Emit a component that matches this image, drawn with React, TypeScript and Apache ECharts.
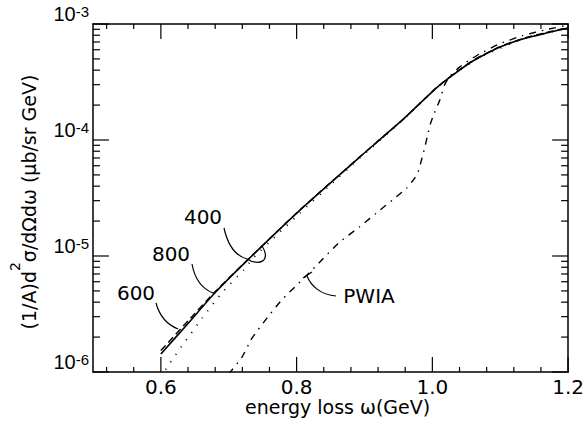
import React, { useEffect, useRef } from "react";
import * as echarts from "echarts";

// ---- tick values ----
const xMajorTicks = [0.6, 0.8, 1.0, 1.2];
const xMinorTicks = [0.52, 0.56, 0.64, 0.68, 0.72, 0.76, 0.84, 0.88, 0.92, 0.96, 1.04, 1.08, 1.12, 1.16];
const yMajorTicks = [1e-6, 1e-5, 1e-4, 1e-3];
const yMinorTicks = [
  2e-6, 3e-6, 4e-6, 5e-6, 6e-6, 7e-6, 8e-6, 9e-6,
  2e-5, 3e-5, 4e-5, 5e-5, 6e-5, 7e-5, 8e-5, 9e-5,
  2e-4, 3e-4, 4e-4, 5e-4, 6e-4, 7e-4, 8e-4, 9e-4,
];

// ---- series: energy loss ω (GeV) and (1/A) d²σ/dΩdω (μb/sr GeV) ----
const omega800 = [0.600, 0.640, 0.678, 0.728, 0.805, 0.893, 0.956, 1.006, 1.030, 1.055, 1.069, 1.099, 1.133, 1.168, 1.200];
const sigma800 = [1.43e-6, 2.62e-6, 4.70e-6, 9.25e-6, 2.49e-5, 7.13e-5, 1.49e-4, 2.81e-4, 3.63e-4, 4.61e-4, 5.15e-4, 6.30e-4, 7.43e-4, 8.36e-4, 9.24e-4];

const omega600 = [0.600, 0.640, 0.678, 0.728, 0.805, 0.893, 0.956, 1.006, 1.030, 1.055, 1.069, 1.099, 1.133, 1.168, 1.200];
const sigma600 = [1.53e-6, 2.76e-6, 4.80e-6, 9.30e-6, 2.50e-5, 7.15e-5, 1.49e-4, 2.83e-4, 3.66e-4, 4.65e-4, 5.20e-4, 6.36e-4, 7.50e-4, 8.45e-4, 9.30e-4];

const omega400 = [0.600, 0.6115, 0.632, 0.661, 0.691, 0.722, 0.736, 0.770, 0.805, 0.850, 0.893, 0.956, 1.006, 1.030, 1.069, 1.133, 1.200];
const sigma400 = [9.0e-7, 1.15e-6, 1.71e-6, 2.92e-6, 4.90e-6, 7.57e-6, 9.62e-6, 1.50e-5, 2.35e-5, 4.12e-5, 7.0e-5, 1.48e-4, 2.80e-4, 3.63e-4, 5.15e-4, 7.43e-4, 9.24e-4];

const omegaPWIA = [0.700, 0.7197, 0.734, 0.756, 0.778, 0.803, 0.830, 0.8615, 0.893, 0.923, 0.947, 0.962, 0.974, 0.980, 0.984, 0.989, 0.993, 0.9975, 1.003, 1.011, 1.018, 1.024, 1.040, 1.055, 1.069, 1.099, 1.133, 1.168, 1.200];
const sigmaPWIA = [9.6e-7, 1.35e-6, 1.95e-6, 2.90e-6, 4.18e-6, 5.82e-6, 8.36e-6, 1.29e-5, 1.79e-5, 2.49e-5, 3.24e-5, 3.84e-5, 4.70e-5, 5.51e-5, 6.73e-5, 8.71e-5, 1.10e-4, 1.40e-4, 1.71e-4, 2.21e-4, 2.98e-4, 3.45e-4, 4.25e-4, 4.90e-4, 5.50e-4, 6.75e-4, 7.95e-4, 8.95e-4, 9.80e-4];

const FONT = "DejaVu Sans";
const LFONT = "Liberation Sans";
const X_MIN = 0.5, X_MAX = 1.2, Y_MIN = 1e-6, Y_MAX = 1e-3;

// grid geometry (pixels) and tick lengths
const GRID = { left: 92, right: 18, top: 24, bottom: 55 };
const PLOT_W = 587 - GRID.left - GRID.right;
const PLOT_H = 427 - GRID.top - GRID.bottom;

export default function App() {
  const ref = useRef<HTMLDivElement>(null);

  useEffect(() => {
    document.body.style.margin = "0";
    const chart = echarts.init(ref.current!, null, { renderer: "svg" });
    const zip = (xs: number[], ys: number[]) => xs.map((x, i) => [x, ys[i]]);

    const lineOn = () => ({ show: true, onZero: false, lineStyle: { color: "#000", width: 1.5 } });
    const xAxisBase = (pos: string, labels: boolean) => ({
      type: "value",
      min: X_MIN,
      max: X_MAX,
      position: pos,
      splitLine: { show: false },
      axisLine: lineOn(),
      axisTick: { show: false },
      axisLabel: labels
        ? {
            show: true,
            customValues: xMajorTicks,
            formatter: (v: number) => v.toFixed(1),
            fontFamily: FONT,
            fontSize: 20,
            lineHeight: 18,
            color: "#000",
            margin: 6,
          }
        : { show: false },
    });

    const yAxisBase = (pos: string) => ({
      type: "log",
      logBase: 10,
      min: Y_MIN,
      max: Y_MAX,
      position: pos,
      splitLine: { show: false },
      axisLine: lineOn(),
      axisTick: { show: false },
      axisLabel: { show: false },
    });

    const yMain: any = yAxisBase("left");
    yMain.axisLabel = {
      show: true,
      customValues: yMajorTicks,
      margin: 4,
      formatter: (v: number) => `{b|10}{s|-${Math.round(-Math.log10(v))}}`,
      rich: {
        b: { fontFamily: LFONT, fontSize: 20, lineHeight: 40, verticalAlign: "top", color: "#000" },
        s: { fontFamily: LFONT, fontSize: 15, lineHeight: 16, verticalAlign: "top", color: "#000" },
      },
    };
    yMain.name = "{b|(1/A)d}{s|2}{b|σ/dΩdω (μb/sr GeV)}";
    yMain.nameLocation = "middle";
    yMain.nameRotate = 90;
    yMain.nameGap = 55;
    yMain.nameTextStyle = {
      padding: [0, 8, 0, 0],
      rich: {
        b: { fontFamily: FONT, fontSize: 19, lineHeight: 30, verticalAlign: "bottom", color: "#000" },
        s: { fontFamily: FONT, fontSize: 14, lineHeight: 14, verticalAlign: "top", color: "#000" },
      },
    };

    const xMain: any = xAxisBase("bottom", true);
    xMain.name = "energy loss ω(GeV)";
    xMain.nameLocation = "middle";
    xMain.nameGap = 25;
    xMain.nameMoveOverlap = false;
    xMain.nameTextStyle = { fontFamily: FONT, fontSize: 19, lineHeight: 19, color: "#000", padding: [0, 0, 0, 14] };

    const line = (name: string, xs: number[], ys: number[], type: any, width: number) => ({
      name,
      type: "line",
      xAxisIndex: 0,
      yAxisIndex: 0,
      data: zip(xs, ys),
      symbol: "none",
      showSymbol: false,
      silent: true,
      clip: true,
      smooth: 0.15,
      lineStyle: { color: "#000", width, type },
    });

    // tick marks: short two-point line series drawn through the axes' scales
    const yFactor = (px: number) => Math.pow(10, (px / PLOT_H) * Math.log10(Y_MAX / Y_MIN));
    const xDelta = (px: number) => (px / PLOT_W) * (X_MAX - X_MIN);
    const tickSeries: any[] = [];
    const seg = (a: number[], b: number[]) =>
      tickSeries.push({
        type: "line",
        xAxisIndex: 0,
        yAxisIndex: 0,
        data: [a, b],
        symbol: "none",
        showSymbol: false,
        silent: true,
        clip: false,
        z: 3,
        lineStyle: { color: "#000", width: 1.2, type: "solid" },
      });
    const addX = (vals: number[], len: number) =>
      vals.forEach((v) => {
        seg([v, Y_MIN], [v, Y_MIN * yFactor(len)]);
        seg([v, Y_MAX], [v, Y_MAX / yFactor(len)]);
      });
    const addY = (vals: number[], len: number) =>
      vals.forEach((v) => {
        seg([X_MIN, v], [X_MIN + xDelta(len), v]);
        seg([X_MAX, v], [X_MAX - xDelta(len), v]);
      });
    addX(xMajorTicks, 15);
    addX(xMinorTicks, 5);
    addY(yMajorTicks, 16);
    addY(yMinorTicks, 7);

    const txt = (text: string, x: number, y: number) => ({
      type: "text",
      x,
      y,
      silent: true,
      style: { text, fill: "#000", font: `20px "${FONT}"`, align: "center", verticalAlign: "middle" },
    });
    const bez = (x1: number, y1: number, cpx1: number, cpy1: number, cpx2: number, cpy2: number, x2: number, y2: number) => ({
      type: "bezierCurve",
      silent: true,
      shape: { x1, y1, cpx1, cpy1, cpx2, cpy2, x2, y2 },
      style: { stroke: "#000", lineWidth: 1.2, fill: null },
    });

    chart.setOption({
      animation: false,
      backgroundColor: "#fff",
      grid: { ...GRID, show: false },
      xAxis: [xMain, xAxisBase("top", false)],
      yAxis: [yMain, yAxisBase("right")],
      series: [
        ...tickSeries,
        line("400", omega400, sigma400, [1, 8], 1.8),
        line("600", omega600, sigma600, [7, 4], 1.4),
        line("PWIA", omegaPWIA, sigmaPWIA, [7, 6, 1.5, 6], 1.4),
        line("800", omega800, sigma800, "solid", 1.6),
      ],
      graphic: [
        txt("400", 203, 217),
        txt("800", 171, 254),
        txt("600", 136, 293),
        txt("PWIA", 369, 296),
        bez(224, 228, 228, 246, 236, 256, 247, 259),
        bez(247, 259, 258, 266, 272, 262, 262, 246),
        bez(192, 264, 195, 281, 203, 289, 213, 293),
        bez(156, 303, 160, 318, 168, 325, 178, 329),
        bez(336, 296, 321, 295, 311, 286, 307, 276),
        bez(303, 278, 306, 276, 309, 274, 312, 272),
      ],
    });

    return () => chart.dispose();
  }, []);

  return <div ref={ref} style={{ position: "fixed", left: 0, top: 0, width: 587, height: 427 }} />;
}
